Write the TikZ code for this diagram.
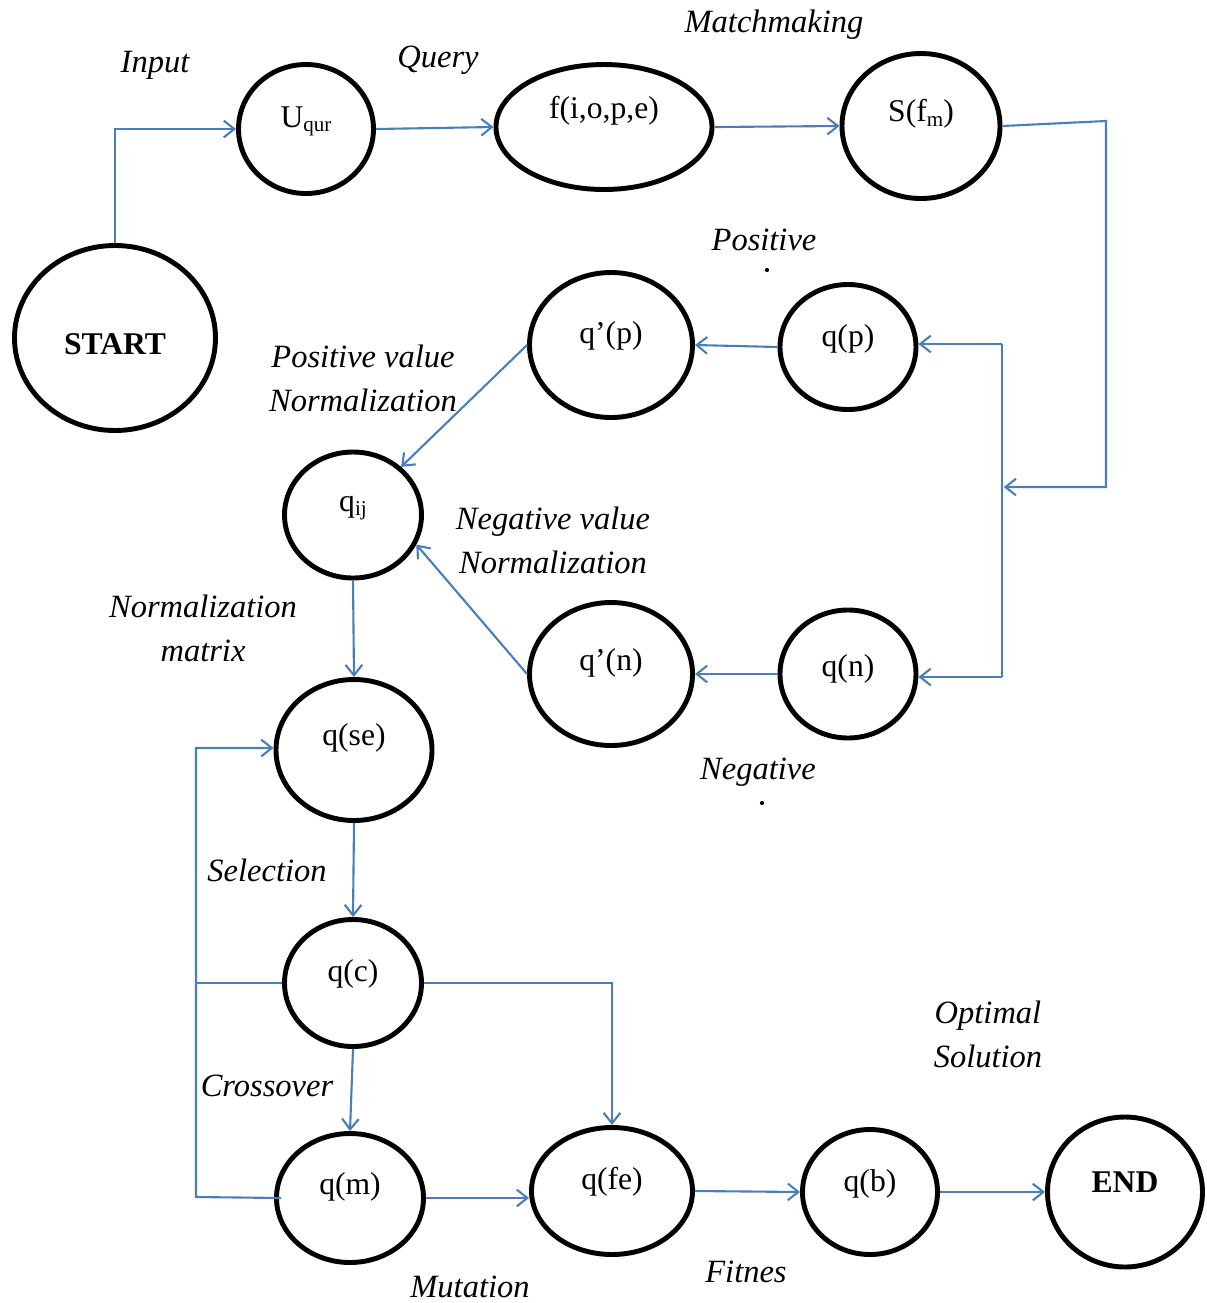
\documentclass[tikz,border=0pt]{standalone}
\usepackage{fontspec}
\setmainfont{Liberation Serif}
\usetikzlibrary{shapes.geometric,arrows.meta}
\definecolor{linkblue}{RGB}{74,126,187}
\begin{document}
\begin{tikzpicture}[x=0.02cm,y=-0.02cm,
  state/.style={ellipse, draw=black, line width=2.8pt, inner sep=0pt,
    font=\fontsize{18}{22}\selectfont, text height=0pt, text depth=5pt},
  sz/.style 2 args={minimum width=#1*0.02cm, minimum height=#2*0.02cm},
  tag/.style={font=\fontsize{18.5}{25}\selectfont\itshape, align=center, inner sep=0pt},
  link/.style={draw=linkblue, line width=1.2pt},
  arr/.style={link, -{Straight Barb[length=6pt,width=9.5pt,line width=1.2pt]}}
]
\newcommand\sbs[1]{{\fontsize{12}{12}\selectfont\raisebox{-2.5pt}{#1}}}
\path[use as bounding box] (0,0) rectangle (1207,1303);

% states
\node[state, sz={201}{185}, text height=19pt, text depth=0pt, font=\fontsize{18}{22}\selectfont\bfseries] (start) at (115,338) {START};
\node[state, sz={135}{129}, text depth=2pt] (uq)  at (306,129) {U\sbs{qur}};
\node[state, sz={216}{125}, text depth=10pt] (f) at (604,127) {f(i,o,p,e)};
\node[state, sz={158}{145}] (s)   at (921,126) {S(f\sbs{m})};
\node[state, sz={163}{145}, text depth=2pt] (qpp) at (611,345) {q’(p)};
\node[state, sz={136}{125}, text depth=1pt] (qp)  at (848,347) {q(p)};
\node[state, sz={137}{126}, text depth=4pt] (qij) at (353,515) {q\sbs{ij}};
\node[state, sz={163}{143}, text depth=3.5pt] (qnn) at (611,674) {q’(n)};
\node[state, sz={136}{128}, text height=2.6pt, text depth=0pt] (qn)  at (848,674) {q(n)};
\node[state, sz={156}{141}] (qse) at (354,750) {q(se)};
\node[state, sz={137}{127}, text depth=2pt] (qc)  at (353,983) {q(c)};
\node[state, sz={147}{129}, text depth=3.5pt] (qm)  at (350,1198) {q(m)};
\node[state, sz={161}{127}, text depth=2pt] (qfe) at (612,1191) {q(fe)};
\node[state, sz={135}{125}, text depth=1pt] (qb)  at (870,1192) {q(b)};
\node[state, sz={155}{150}, text height=1pt, text depth=1pt, font=\fontsize{18}{22}\selectfont\bfseries] (end) at (1125,1192) {END};

% edge captions
\node[tag] (tInput) at (155,65) {Input};
\node[tag] (tQuery) at (438,60) {Query};
\node[tag] (tMatch) at (774,25) {Matchmaking};
\node[tag] (tPos) at (764,240) {Positive};
\node[tag] (tPosN) at (363,378) {Positive value\\Normalization};
\node[tag] (tNegN) at (553,540) {Negative value\\Normalization};
\node[tag] (tNorm) at (203,628) {Normalization\\matrix};
\node[tag] (tNeg) at (758,772) {Negative};
\node[tag] (tSel) at (267,870) {Selection};
\node[tag] (tCross) at (267,1086) {Crossover};
\node[tag] (tOpt) at (988,1034) {Optimal\\Solution};
\node[tag] (tMut) at (470,1287) {Mutation};
\node[tag] (tFit) at (746,1272) {Fitnes};
\fill (767,270) circle (1.2pt);
\fill (762,803) circle (1.2pt);

% junction points
\coordinate (jS) at (1106,121);
\coordinate (jR) at (1106,487);
\coordinate (busT) at (1002,344);
\coordinate (busM) at (1002,487);
\coordinate (busB) at (1002,677);
\coordinate (jC) at (612,983);
\coordinate (lT) at (196,748);
\coordinate (lM) at (196,983);
\coordinate (lB) at (196,1197);

% connectors
\draw[arr] (start.north) |- (uq.west);
\draw[arr] (uq.east) -- (f.west);
\draw[arr] (f.east) -- (s.west);
\draw[arr] (s.east) -- (jS) -- (jR) -- ([xshift=1pt]busM);
\draw[link] (busT) -- (busB);
\draw[arr] (busT) -- (qp.east |- busT);
\draw[arr] (busB) -- (qn.east |- busB);
\draw[arr] (qp.west) -- (qpp.east);
\draw[arr] (qn.west) -- (qnn.east);
\draw[arr] (qpp.west) -- (qij.45);
\draw[arr] (qnn.west) -- (qij.-25);
\draw[arr] (qij.south) -- (qse.north);
\draw[arr] (qse.south) -- (qc.north);
\draw[arr] (qc.south) -- (qm.north);
\draw[arr] (qc.east) -- (jC) -- (qfe.north);
\draw[link] (qc.west) -- (lM);
\draw[arr] ([xshift=4pt]qm.west) -- (lB) -- (lT) -- (qse.west |- lT);
\draw[arr] (qm.east) -- (qm.east -| qfe.west);
\draw[arr] (qfe.east) -- (qb.west);
\draw[arr] (qb.east) -- (end.west);
\end{tikzpicture}
\end{document}
